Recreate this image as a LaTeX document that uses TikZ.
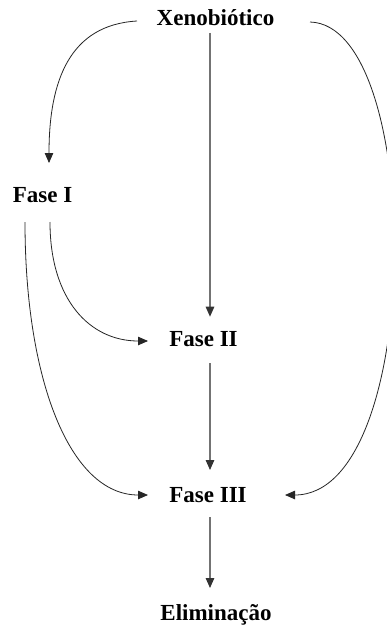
\documentclass[tikz,border=0pt]{standalone}
\usepackage{fontspec}
\setmainfont{Liberation Serif}
\usetikzlibrary{arrows.meta}
\begin{document}
\begin{tikzpicture}[x=1pt,y=-1pt,
  lbl/.style={font=\fontsize{23}{27}\selectfont\bfseries, inner sep=0pt, anchor=base},
  curv/.style={line width=0.8pt, draw=black!85, -{Triangle[length=10pt,width=8.5pt,color=black!85]}},
  vert/.style={line width=1.3pt, draw=black!55, -{Triangle[length=10pt,width=8.5pt,color=black!80]}}]
\fill[white] (0,0) rectangle (387,626);
\useasboundingbox (0,0) rectangle (387,626);
\node[lbl] (xeno) at (215.5,26) {Xenobiótico};
\node[lbl] (f1) at (42.5,202) {Fase I};
\node[lbl] (f2) at (203.5,346) {Fase II};
\node[lbl] (f3) at (208,502) {Fase III};
\node[lbl] (elim) at (216,620) {Eliminação};
% vertical arrows
\draw[vert] ([shift={(-5.5,7)}]xeno.base) -- ([shift={(6.5,-29.3)}]f2.base);
\draw[vert] ([shift={(6.5,17)}]f2.base) -- ([shift={(2,-32)}]f3.base);
\draw[vert] ([shift={(2,15)}]f3.base) -- ([shift={(-6,-32)}]elim.base);
% curved arrows
\draw[curv] ([shift={(-78.5,-5)}]xeno.base) .. controls +(-67,4) and +(0,-83) .. ([shift={(6.5,-39)}]f1.base);
\draw[curv] ([shift={(94.5,-4)}]xeno.base) .. controls +(115,3) and +(140,0) .. ([shift={(77,-7)}]f3.base);
\draw[curv] ([shift={(7.5,20)}]f1.base) .. controls +(0,78) and +(-58,0) .. ([shift={(-55.5,-5)}]f2.base);
\draw[curv] ([shift={(-17.5,20)}]f1.base) .. controls +(0,158) and +(-78,0) .. ([shift={(-60,-7)}]f3.base);
\end{tikzpicture}
\end{document}
